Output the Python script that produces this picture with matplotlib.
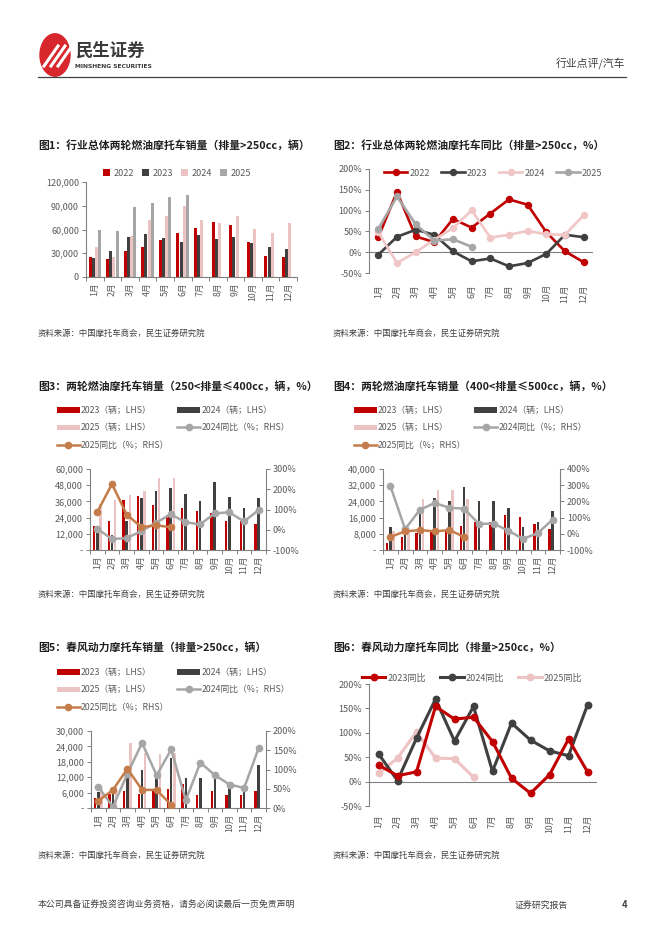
import numpy as np
import matplotlib
matplotlib.use('Agg')
import matplotlib.pyplot as plt
from matplotlib.ticker import FuncFormatter
from matplotlib.patches import Circle
from matplotlib.lines import Line2D

plt.rcParams['font.family'] = ['Noto Sans CJK SC', 'DejaVu Sans']
plt.rcParams['axes.unicode_minus'] = False

W, H = 662, 936

months = [str(i) + '月' for i in range(1, 13)]

# 图1 行业总体销量 (辆)
c1_2022 = [25000, 23000, 33000, 37500, 47000, 55500, 62000, 70000, 66000, 44000, 27000, 25700]
c1_2023 = [24400, 32400, 51000, 54000, 49000, 44500, 53000, 47500, 50000, 42500, 38300, 35800]
c1_2024 = [37900, 25000, 52000, 72000, 77000, 90000, 72500, 68500, 76500, 60500, 55000, 68000]
c1_2025 = [59000, 57700, 88000, 93000, 101000, 103000]

# 图2 行业总体同比 (%)
c2_2022 = [36, 145, 38, 24, 80, 59, 93, 127, 114, 48, 2, -24]
c2_2023 = [-6, 37, 54, 42, 2, -22, -15, -34, -26, -4, 42, 36]
c2_2024 = [48, -26, 0, 30, 58, 101, 35, 42, 51, 43, 42, 89]
c2_2025 = [56, 134, 67, 28, 31, 13]

# 图3 250<排量≤400cc
c3_2023 = [17800, 21200, 37000, 40200, 33300, 26000, 30900, 28900, 27600, 21200, 21500, 19300]
c3_2024 = [18000, 11000, 21500, 38300, 43700, 46000, 41200, 36300, 50400, 39000, 30900, 38300]
c3_2025 = [34000, 37000, 40700, 43700, 53100, 53000]
c3_yoy24 = [5, -46, -41, -7, 35, 76, 38, 26, 81, 86, 41, 97]
c3_yoy25 = [88, 226, 75, 13, 22, 13]

# 图4 400<排量≤500cc
c4_2023 = [3300, 6600, 8200, 8900, 9500, 12000, 14000, 14000, 17300, 16100, 12800, 10200]
c4_2024 = [11500, 8600, 20000, 25800, 24000, 30900, 24300, 24300, 20700, 11200, 14000, 19300]
c4_2025 = [9300, 9900, 25000, 29400, 29400, 25000]
c4_yoy24 = [295, 29, 148, 190, 161, 155, 61, 63, 19, -31, 4, 88]
c4_yoy25 = [-19, 15, 23, 15, 23, -19]

# 图5 春风动力销量
c5_2023 = [4000, 5400, 6500, 5400, 6800, 7500, 9500, 5200, 6800, 5000, 5200, 6500]
c5_2024 = [6300, 5550, 12200, 14700, 13500, 19500, 11600, 11800, 12200, 8100, 7900, 16800]
c5_2025 = [7400, 8200, 25200, 21500, 21000, 21300]
c5_yoy24 = [55, 3, 89, 169, 85, 152, 20, 118, 85, 61, 52, 156]
c5_yoy25 = [18, 47, 102, 47, 47, 8]

# 图6 春风动力同比
c6_2023 = [34, 12, 20, 154, 128, 132, 82, 7, -24, 14, 87, 20]
c6_2024 = [57, 2, 89, 169, 83, 154, 21, 120, 85, 63, 53, 157]
c6_2025 = [17, 48, 102, 48, 47, 9]

RED = '#C00000'
DARK = '#404040'
PINK = '#EBC3C3'
GREY = '#A6A6A6'
ORANGE = '#C47D4A'
TXT = '#595959'
SPINE = '#808080'


def px_axes(fig, x0, y0, x1, y1):
    return fig.add_axes([x0 / W, 1 - y1 / H, (x1 - x0) / W, (y1 - y0) / H])


def ftext(fig, x, y, s, **kw):
    fig.text(x / W, 1 - y / H, s, **kw)


def fp(x, y):
    return (x / W, 1 - y / H)


def style_axes(ax, xpad=4):
    for s in ['top', 'right']:
        ax.spines[s].set_visible(False)
    ax.spines['left'].set_color(SPINE)
    ax.spines['bottom'].set_color(SPINE)
    ax.spines['left'].set_linewidth(0.8)
    ax.spines['bottom'].set_linewidth(0.8)
    ax.tick_params(axis='y', labelcolor=TXT, color=SPINE, labelsize=6.5, length=3, width=0.7, pad=2)
    ax.set_xticks(range(12))
    ax.set_xticklabels(months, rotation=90)
    ax.set_xticks(np.arange(-0.5, 12, 1), minor=True)
    ax.tick_params(axis='x', which='major', length=0, labelsize=6.3, labelcolor=TXT, pad=xpad)
    ax.tick_params(axis='x', which='minor', length=3, color=SPINE, width=0.7)
    ax.set_xlim(-0.5, 11.5)


def style_right(axr):
    for s in ['top', 'left', 'bottom']:
        axr.spines[s].set_visible(False)
    axr.spines['right'].set_color(SPINE)
    axr.spines['right'].set_linewidth(0.8)
    axr.tick_params(axis='y', labelcolor=TXT, color=SPINE, labelsize=6.5, length=3, width=0.7, pad=2)


thousands = FuncFormatter(lambda v, p: '{:,.0f}'.format(v))
dash_thousands = FuncFormatter(lambda v, p: '-' if v == 0 else '{:,.0f}'.format(v))
pct = FuncFormatter(lambda v, p: '{:.0f}%'.format(v))

fig = plt.figure(figsize=(W / 100, H / 100), dpi=100)

# header
fig.patches.append(Circle(fp(55, 55), 15 / W, transform=fig.transFigure, color='#D7262C',
                          zorder=1))
for k in range(3):
    fig.add_artist(Line2D([(44 + k * 7) / W, (58 + k * 7) / W], [1 - 66 / H, 1 - 46 / H],
                          color='white', lw=2.2, transform=fig.transFigure, zorder=2))
ftext(fig, 75, 51, '民生证券', fontsize=12.5, fontweight='bold', color='#3A3A3A', va='center')
ftext(fig, 75, 66, 'MINSHENG SECURITIES', fontsize=4.3, fontweight='bold', color='#3A3A3A',
      va='center', family='DejaVu Sans')
ftext(fig, 625, 64, '行业点评/汽车', fontsize=7.8, color='#404040', ha='right', va='center')
fig.add_artist(Line2D([38 / W, 626 / W], [1 - 77 / H, 1 - 77 / H], color='#404040', lw=0.9,
                      transform=fig.transFigure))

# titles and sources
titles = [
    (38, 145, '图1：行业总体两轮燃油摩托车销量（排量>250cc，辆）'),
    (333, 145, '图2：行业总体两轮燃油摩托车同比（排量>250cc，%）'),
    (38, 386, '图3：两轮燃油摩托车销量（250<排量≤400cc，辆，%）'),
    (333, 386, '图4：两轮燃油摩托车销量（400<排量≤500cc，辆，%）'),
    (38, 647, '图5：春风动力摩托车销量（排量>250cc，辆）'),
    (333, 647, '图6：春风动力摩托车同比（排量>250cc，%）'),
]
for x, y, s in titles:
    ftext(fig, x, y, s, fontsize=7.8, fontweight='bold', color='#1F1F1F', va='center')
for x in (38, 333):
    for y in (333, 594, 855):
        ftext(fig, x, y, '资料来源：中国摩托车商会，民生证券研究院', fontsize=6, color='#404040',
              va='center')

# footer
ftext(fig, 38, 905, '本公司具备证券投资咨询业务资格，请务必阅读最后一页免责声明', fontsize=6.4,
      color='#404040', va='center')
ftext(fig, 515, 905, '证券研究报告', fontsize=6.4, color='#404040', va='center')
ftext(fig, 622, 905, '4', fontsize=6.8, fontweight='bold', color='#404040', va='center')

x = np.arange(12)

# ---- 图1
ax1 = px_axes(fig, 86, 182, 297, 277)
style_axes(ax1)
offs = [-0.27, -0.09, 0.09, 0.27]
bw = 0.17
b1 = ax1.bar(x + offs[0], c1_2022, bw, color=RED)
b2 = ax1.bar(x + offs[1], c1_2023, bw, color=DARK)
b3 = ax1.bar(x + offs[2], c1_2024, bw, color=PINK)
b4 = ax1.bar(x[:6] + offs[3], c1_2025, bw, color=GREY)
ax1.set_ylim(0, 120000)
ax1.set_yticks(np.arange(0, 120001, 30000))
ax1.yaxis.set_major_formatter(thousands)
fig.legend([b1, b2, b3, b4], ['2022', '2023', '2024', '2025'], loc='center',
           bbox_to_anchor=fp(177, 173), ncol=4, frameon=False, fontsize=6.5,
           handlelength=0.7, handleheight=0.7, handletextpad=0.4, columnspacing=0.95,
           labelcolor=TXT, borderpad=0)

# ---- 图2
ax2 = px_axes(fig, 369, 169, 593, 273)
style_axes(ax2, xpad=8)
ax2.spines['bottom'].set_visible(False)
ax2.tick_params(axis='x', which='minor', length=0)
ax2.axhline(0, color=SPINE, lw=0.8, zorder=1)
lk = dict(lw=1.9, marker='o', ms=4.3)
l1, = ax2.plot(x, c2_2022, color=RED, **lk)
l2, = ax2.plot(x, c2_2023, color=DARK, **lk)
l3, = ax2.plot(x, c2_2024, color='#F0C6C6', **lk)
l4, = ax2.plot(x[:6], c2_2025, color=GREY, **lk)
ax2.set_ylim(-50, 200)
ax2.set_yticks(np.arange(-50, 201, 50))
ax2.yaxis.set_major_formatter(pct)
fig.legend([l1, l2, l3, l4], ['2022', '2023', '2024', '2025'], loc='center',
           bbox_to_anchor=fp(493, 173), ncol=4, frameon=False, fontsize=6.5,
           handlelength=2.6, handletextpad=0.2, columnspacing=1.3, labelcolor=TXT, borderpad=0)


def combo(box, s23, s24, s25, y24, y25, lmax, lstep, rmin, rmax, rstep, leg_xy, col_space):
    ax = px_axes(fig, *box)
    style_axes(ax)
    off = [-0.22, 0, 0.22]
    w = 0.17
    h1 = ax.bar(x + off[0], s23, w, color=RED)
    h2 = ax.bar(x + off[1], s24, w, color=DARK)
    h3 = ax.bar(x[:6] + off[2], s25, w, color=PINK)
    ax.set_ylim(0, lmax)
    ax.set_yticks(np.arange(0, lmax + 1, lstep))
    ax.yaxis.set_major_formatter(dash_thousands)
    axr = ax.twinx()
    style_right(axr)
    h4, = axr.plot(x, y24, color=GREY, lw=1.8, marker='o', ms=4.5)
    h5, = axr.plot(x[:6], y25, color=ORANGE, lw=1.8, marker='o', ms=4.5)
    axr.set_ylim(rmin, rmax)
    axr.set_yticks(np.arange(rmin, rmax + 1, rstep))
    axr.yaxis.set_major_formatter(pct)
    axr.set_xlim(-0.5, 11.5)
    fig.legend([h1, h3, h5, h2, h4],
               ['2023（辆；LHS）', '2025（辆；LHS）', '2025同比（%；RHS）',
                '2024（辆；LHS）', '2024同比（%；RHS）'],
               loc='upper left', bbox_to_anchor=fp(*leg_xy), ncol=2, frameon=False,
               fontsize=6.3, handlelength=2.6, handleheight=0.55, handletextpad=0.15,
               labelspacing=0.95, columnspacing=col_space, labelcolor=TXT, borderpad=0,
               borderaxespad=0)
    return ax, axr


# ---- 图3
combo((90, 469, 266, 550), c3_2023, c3_2024, c3_2025, c3_yoy24, c3_yoy25,
      60000, 12000, -100, 300, 100, (57, 406), 0.9)
# ---- 图4
combo((383, 469, 560, 550), c4_2023, c4_2024, c4_2025, c4_yoy24, c4_yoy25,
      40000, 8000, -100, 400, 100, (354, 406), 0.9)
# ---- 图5
combo((91, 731, 266, 808), c5_2023, c5_2024, c5_2025, c5_yoy24, c5_yoy25,
      30000, 6000, 0, 200, 50, (57, 668), 0.9)

# ---- 图6
ax6 = px_axes(fig, 369, 684, 597, 806)
style_axes(ax6, xpad=6)
ax6.spines['bottom'].set_visible(False)
ax6.tick_params(axis='x', which='minor', length=0)
ax6.axhline(0, color=SPINE, lw=0.8, zorder=1)
lk6 = dict(lw=2.2, marker='o', ms=4.6)
m3, = ax6.plot(x[:6], c6_2025, color='#EDC3C3', **lk6)
m2, = ax6.plot(x, c6_2024, color=DARK, **lk6)
m1, = ax6.plot(x, c6_2023, color=RED, **lk6)
ax6.set_ylim(-50, 200)
ax6.set_yticks(np.arange(-50, 201, 50))
ax6.yaxis.set_major_formatter(pct)
fig.legend([m1, m2, m3], ['2023同比', '2024同比', '2025同比'], loc='center',
           bbox_to_anchor=fp(472, 678), ncol=3, frameon=False, fontsize=6.5,
           handlelength=2.6, handletextpad=0.2, columnspacing=1.6, labelcolor=TXT, borderpad=0)

fig.savefig('out.png', dpi=100)
